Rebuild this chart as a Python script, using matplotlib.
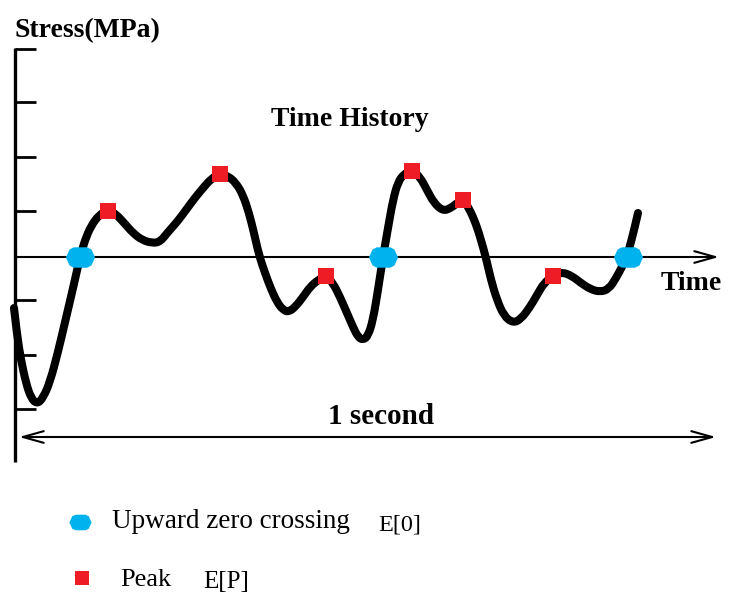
import matplotlib
matplotlib.use("Agg")
import matplotlib.pyplot as plt
from matplotlib.path import Path
from matplotlib.patches import PathPatch

# ---- data (time in drawing units, stress relative to zero line) ----
curve_time = [14, 17, 21, 26, 31, 37, 43, 50, 58, 66, 74, 80, 85, 91, 99, 108,
              116, 125, 133, 142, 152, 160, 168, 177, 186, 194, 203, 212, 220,
              228, 236, 243, 249, 254, 259, 265, 271, 277, 283, 289, 296, 303,
              310, 318, 326, 333, 340, 347, 353, 358, 363, 368, 373, 378, 383,
              388, 393, 398, 404, 412, 420, 427, 434, 443, 451, 457, 463, 469,
              476, 481, 486, 491, 497, 504, 513, 521, 530, 537, 544, 553, 562,
              572, 581, 590, 600, 609, 616, 622, 627, 631, 635, 638]
curve_stress = [-51, -78, -103, -126, -141, -147, -141, -125, -95, -61, -27, 0,
                17, 31, 42, 47, 43, 33, 24, 17, 14, 15, 25, 35, 47, 58, 69, 79,
                83, 81, 74, 62, 44, 24, 2, -16, -32, -45, -53, -55, -49, -40,
                -30, -23, -19, -26, -40, -56, -70, -80, -83, -79, -63, -33, 0,
                29, 57, 75, 83, 87, 80, 67, 54, 46, 49, 54, 57, 49, 33, 17, -1,
                -23, -43, -59, -66, -62, -50, -38, -26, -19, -15, -19, -26,
                -32, -35, -32, -21, -10, 1, 15, 31, 44]

zero_cross_time = [80, 383, 628]
zero_cross_stress = [0, 0, 0]
peak_time = [108, 220, 326, 412, 463, 553]
peak_stress = [46, 83, -19, 86, 57, -19]

ytick_stress = [208, 155, 100, 46, -43, -98, -152]

title = "Time History"
ylabel = "Stress(MPa)"
xlabel = "Time"
span_label = "1 second"
legend_labels = ["Upward zero crossing", "Peak"]
legend_eq = ["E[0]", "E[P]"]

BLUE = "#00B2EE"
RED = "#EE1C25"
SERIF = ["Liberation Serif", "DejaVu Serif"]

fig = plt.figure(figsize=(7.33, 5.95), dpi=100)
ax = fig.add_axes([0, 0, 1, 1])
ax.set_xlim(0, 733)
ax.set_ylim(257 - 595, 257)
ax.axis("off")

# y axis and ticks
ax.vlines(15, -205, 209, color="black", lw=2.4)
ax.hlines(ytick_stress, 15, 36, color="black", lw=2.0)

# zero line with open arrow head (time axis)
ax.annotate("", xy=(719, 0), xytext=(15, 0),
            arrowprops=dict(arrowstyle="->,head_length=1.5,head_width=0.42",
                            color="black", lw=1.5, shrinkA=0, shrinkB=0))

# 1 second span arrow
ax.annotate("", xy=(716, -180), xytext=(19, -180),
            arrowprops=dict(arrowstyle="<->,head_length=1.5,head_width=0.42",
                            color="black", lw=1.5, shrinkA=0, shrinkB=0))

# the curve: read points used as quadratic B-spline controls, drawn by matplotlib
pts = list(zip(curve_time, curve_stress))
verts = [pts[0]]
codes = [Path.MOVETO]
for i in range(1, len(pts) - 1):
    mid = ((pts[i][0] + pts[i + 1][0]) / 2, (pts[i][1] + pts[i + 1][1]) / 2)
    verts += [pts[i], mid]
    codes += [Path.CURVE3, Path.CURVE3]
verts.append(pts[-1])
codes.append(Path.LINETO)
curve = PathPatch(Path(verts, codes), facecolor="none", edgecolor="black",
                  lw=5.8, capstyle="round", joinstyle="round", zorder=3)
ax.add_patch(curve)

# markers (rounded hexagon shape, wider than tall)
hexv = [(-1.0, 0.0), (-0.75, 0.55), (-0.45, 0.7), (0.45, 0.7), (0.75, 0.55),
        (1.0, 0.0), (0.75, -0.55), (0.45, -0.7), (-0.45, -0.7), (-0.75, -0.55),
        (-1.0, 0.0)]
hex_marker = Path(hexv, [Path.MOVETO] + [Path.LINETO] * 9 + [Path.CLOSEPOLY])
ax.plot(zero_cross_time, zero_cross_stress, linestyle="none", marker=hex_marker,
        markersize=21, color=BLUE, markeredgewidth=0, zorder=4)
ax.plot(peak_time, peak_stress, linestyle="none", marker="s", markersize=12,
        color=RED, markeredgewidth=0, zorder=4)

# texts
ax.text(15, 257 - 31, ylabel, family=SERIF, fontsize=20, weight="bold",
        va="center", ha="left")
ax.text(350, 257 - 119, title, family=SERIF, fontsize=20, weight="bold",
        va="center", ha="center")
ax.text(661, 257 - 284, xlabel, family=SERIF, fontsize=20, weight="bold",
        va="center", ha="left")
ax.text(381, 257 - 417, span_label, family=SERIF, fontsize=21, weight="bold",
        va="center", ha="center")

# legend
ax.plot([80], [257 - 522], linestyle="none", marker=hex_marker, markersize=16,
        color=BLUE, markeredgewidth=0)
ax.plot([82], [257 - 578], linestyle="none", marker="s", markersize=10,
        color=RED, markeredgewidth=0)
ax.text(112, 257 - 521, legend_labels[0], family=SERIF, fontsize=19.5,
        va="center", ha="left")
ax.text(378, 257 - 525, legend_eq[0], family=SERIF, fontsize=17.5,
        va="center", ha="left")
ax.text(120, 257 - 580, legend_labels[1], family=SERIF, fontsize=19,
        va="center", ha="left")
ax.text(203, 257 - 582, legend_eq[1], family=SERIF, fontsize=18,
        va="center", ha="left")

fig.savefig("out.png", dpi=100)
